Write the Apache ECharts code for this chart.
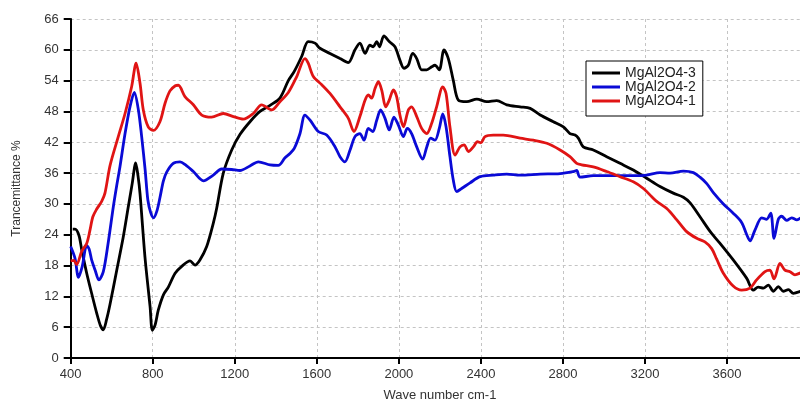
<!DOCTYPE html>
<html>
<head>
<meta charset="utf-8">
<script src="https://cdn.jsdelivr.net/npm/echarts@6/dist/echarts.min.js"></script>
<style>
  html, body { margin: 0; padding: 0; background: #fff; }
  #chart { width: 800px; height: 405px; }
</style>
</head>
<body>
<div id="chart"></div>
<script>
// FTIR transmittance spectra of three MgAl2O4 samples
const seriesNames = ['MgAl2O4-3', 'MgAl2O4-2', 'MgAl2O4-1'];
const seriesColors = ['#000000', '#0a0ad6', '#e01414'];

// [wave number (cm-1), transmittance (%)]
const sample3 = [
  [410,25.1],[421,25.1],[440,23.9],[454,21.0],[478,16.5],[502,12.6],[527,8.7],[545,6.3],[559,5.5],[575,7.5],
  [592,10.5],[624,17],[656,23.5],[681,29.5],[700,34],[717,38.0],[728,35.5],[738,32],[762,19.7],[787,10],
  [798,5.4],[812,6.5],[827,9.3],[852,12.3],[876,13.8],[909,16.5],[940,17.8],[982,18.9],[1006,18.1],[1030,19.1],
  [1063,21.7],[1095,26.2],[1112,29.2],[1144,36.0],[1185,40.5],[1225,43.5],[1274,46.0],[1323,48.0],[1372,49.2],[1420,50.6],
  [1461,54.0],[1490,55.8],[1526,58.7],[1558,61.6],[1591,61.3],[1615,60.3],[1664,59.3],[1713,58.3],[1753,57.5],[1786,60.0],
  [1810,61.3],[1835,59.3],[1859,60.9],[1875,60.6],[1892,61.6],[1905,60.6],[1927,62.7],[1953,61.6],[1981,60.6],[2005,58.0],
  [2025,56.4],[2046,57.0],[2067,59.3],[2087,58.3],[2111,56.1],[2136,56.1],[2160,56.7],[2176,57.0],[2197,56.1],[2220,60.0],
  [2241,58.3],[2265,54.1],[2290,50.2],[2331,49.9],[2380,50.4],[2428,49.9],[2477,50.1],[2526,49.3],[2591,48.9],[2640,48.6],
  [2689,47.3],[2753,46.0],[2802,45.0],[2834,43.7],[2859,43.4],[2875,42.8],[2899,41.1],[2948,40.5],[3013,39.2],[3078,37.9],
  [3143,36.6],[3208,35.0],[3273,33.4],[3338,32.1],[3387,31.3],[3420,30.2],[3468,27.5],[3520,24.5],[3566,22.3],[3630,19.1],
  [3696,15.5],[3728,13.2],[3752,13.8],[3777,13.6],[3801,14.2],[3826,13.0],[3850,13.9],[3874,13.0],[3899,13.3],[3923,12.6],
  [3960,13.0]
];

const sample2 = [
  [400,21.7],[421,19.4],[438,15.7],[456,17.8],[478,21.9],[490,21.2],[502,19.1],[520,17.0],[537,15.2],[559,16.8],
  [583,22.5],[608,29.5],[624,33.5],[640,37.2],[665,43.7],[689,48.9],[710,51.7],[730,48.3],[746,43.1],[763,36.6],
  [776,30.8],[790,28.3],[804,27.3],[820,28.6],[835,31.2],[852,34.5],[868,36.2],[900,37.9],[933,38.2],[960,37.6],
  [998,36.3],[1047,34.5],[1095,35.6],[1136,36.8],[1185,36.7],[1225,36.5],[1274,37.4],[1315,38.2],[1372,37.6],[1412,37.5],
  [1445,39.0],[1469,39.8],[1490,40.8],[1518,43.7],[1542,47.3],[1567,46.3],[1607,44.1],[1648,43.4],[1689,41.1],[1713,39.2],
  [1737,38.2],[1762,40.5],[1786,43.1],[1810,43.7],[1830,42.4],[1851,44.7],[1873,44.1],[1892,46.3],[1911,48.3],[1932,46.7],
  [1953,44.4],[1976,46.9],[1997,45.4],[2022,43.1],[2041,44.7],[2062,43.7],[2087,41.1],[2116,38.7],[2136,41.1],[2155,42.8],
  [2176,42.4],[2197,44.7],[2214,47.5],[2230,45.0],[2249,39.2],[2265,34.7],[2282,32.4],[2306,33.0],[2347,34.1],[2396,35.3],
  [2460,35.6],[2526,35.8],[2591,35.6],[2689,35.8],[2786,35.9],[2851,36.3],[2867,36.5],[2883,35.2],[2948,35.5],[3046,35.5],
  [3143,35.5],[3208,35.6],[3273,36.1],[3322,36.0],[3387,36.4],[3436,36.1],[3468,35.2],[3500,34.0],[3533,32.2],[3582,30.0],
  [3630,28.2],[3671,26.4],[3696,24.0],[3712,22.8],[3736,24.9],[3769,27.3],[3793,27.0],[3813,28.2],[3829,23.3],[3850,27.0],
  [3866,27.6],[3891,26.8],[3915,27.3],[3940,26.9],[3960,27.3]
];

const sample1 = [
  [400,18.9],[415,19.0],[429,18.2],[454,20.8],[478,22.3],[494,24.9],[508,27.5],[527,29.0],[551,30.5],[567,32.1],
  [592,37.5],[632,43.1],[665,47.6],[697,52.8],[719,57.4],[738,53.5],[754,48.3],[778,45.0],[803,44.3],[835,46.0],
  [860,49.6],[884,52.0],[910,53.0],[925,53.1],[957,50.9],[998,49.3],[1039,47.3],[1087,46.9],[1144,47.6],[1193,47.0],
  [1241,46.5],[1290,47.6],[1331,49.3],[1380,48.3],[1420,49.9],[1461,51.7],[1502,54.8],[1542,58.3],[1558,57.4],[1583,54.8],
  [1624,53.2],[1664,51.5],[1713,48.9],[1753,46.7],[1781,44.1],[1810,47.0],[1835,50.2],[1851,51.2],[1867,50.6],[1884,52.5],
  [1900,53.8],[1916,52.2],[1936,48.9],[1953,50.2],[1973,52.2],[1989,50.9],[2005,47.3],[2022,45.0],[2046,48.3],[2062,48.9],
  [2087,47.0],[2111,44.7],[2136,43.7],[2160,45.7],[2184,48.9],[2214,52.8],[2230,51.5],[2249,45.0],[2274,39.5],[2298,41.1],
  [2318,41.5],[2339,40.2],[2363,41.1],[2383,42.1],[2400,41.9],[2420,43.1],[2460,43.4],[2509,43.4],[2591,42.8],[2656,42.4],
  [2721,41.8],[2786,40.5],[2834,39.2],[2867,37.9],[2891,37.6],[2948,37.2],[3013,36.3],[3078,35.3],[3143,34.3],[3192,33.0],
  [3233,31.4],[3257,30.5],[3306,29.1],[3355,26.9],[3403,24.6],[3452,23.3],[3492,22.6],[3525,21.3],[3549,19.3],[3582,16.5],
  [3630,14.0],[3671,13.2],[3712,13.6],[3744,15.2],[3785,16.8],[3809,17.1],[3829,15.4],[3858,18.4],[3882,17.1],[3907,16.8],
  [3931,16.2],[3960,16.6]
];

const seriesData = [sample3, sample2, sample1];

// Axis ranges and steps
const xMin = 400, xMax = 4000, xStep = 400;
const yMin = 0, yMax = 66, yStep = 6;

const font = "'Liberation Sans', Arial, sans-serif";
const gridLine = { show: true, lineStyle: { color: '#c4c4c4', width: 1, type: [3, 3] } };

const chart = echarts.init(document.getElementById('chart'), null, { renderer: 'canvas' });

chart.setOption({
  animation: false,
  backgroundColor: '#ffffff',
  grid: {
    left: 70.7, right: -9.1, top: 19, bottom: 47,
    containLabel: false,
    outerBoundsMode: 'none'
  },
  legend: {
    data: seriesNames,
    orient: 'vertical',
    left: 586,
    top: 61,
    padding: [5, 7, 8, 6],
    itemGap: 0,
    itemWidth: 28,
    itemHeight: 3,
    icon: 'rect',
    borderColor: '#000',
    borderWidth: 1,
    backgroundColor: '#fff',
    textStyle: { fontFamily: font, fontSize: 14, lineHeight: 13, color: '#222' }
  },
  xAxis: {
    type: 'value',
    min: xMin, max: xMax, interval: xStep,
    name: 'Wave number cm-1',
    nameLocation: 'middle',
    nameGap: 31,
    nameTextStyle: { fontFamily: font, fontSize: 13, color: '#333' },
    axisLine: { show: true, lineStyle: { color: '#000', width: 2 } },
    axisTick: { show: true, inside: false, length: 6, lineStyle: { color: '#000', width: 2 } },
    axisLabel: {
      fontFamily: font, fontSize: 13, color: '#333', margin: 10, showMaxLabel: false,
      formatter: v => String(v)
    },
    splitLine: gridLine
  },
  yAxis: {
    type: 'value',
    min: yMin, max: yMax, interval: yStep,
    name: 'Trancemittance %',
    nameLocation: 'middle',
    nameGap: 48,
    nameRotate: 90,
    nameTextStyle: { fontFamily: font, fontSize: 12, color: '#333' },
    axisLine: { show: true, lineStyle: { color: '#000', width: 2 } },
    axisTick: { show: true, inside: false, length: 7, lineStyle: { color: '#000', width: 2 } },
    axisLabel: { fontFamily: font, fontSize: 13, color: '#333', margin: 12 },
    splitLine: gridLine
  },
  series: seriesNames.map((name, i) => ({
    name: name,
    type: 'line',
    data: seriesData[i],
    smooth: 0.3,
    showSymbol: false,
    clip: true,
    color: seriesColors[i],
    lineStyle: { color: seriesColors[i], width: 2.8 },
    z: 3 + i
  }))
});
</script>
</body>
</html>
